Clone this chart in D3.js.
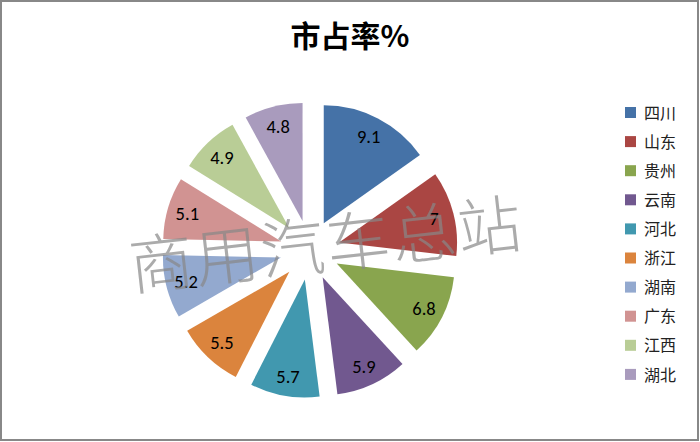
<!DOCTYPE html>
<html>
<head>
<meta charset="utf-8">
<script src="https://cdn.jsdelivr.net/npm/d3@7"></script>
<style>
  html, body { margin: 0; padding: 0; background: #fff; }
</style>
</head>
<body>
<svg id="chart"></svg>
<script>
const categories = ["四川", "山东", "贵州", "云南", "河北", "浙江", "湖南", "广东", "江西", "湖北"];
const shares = [9.1, 7, 6.8, 5.9, 5.7, 5.5, 5.2, 5.1, 4.9, 4.8];
const colors = ["#4572A7", "#AA4643", "#89A54E", "#71588F", "#4198AF",
                "#DB843D", "#93A9CF", "#D19392", "#B9CD96", "#A99BBD"];

const width = 700, height = 442;
const cx = 310, cy = 250;
const radius = 118, explode = 30;

const svg = d3.select("#chart").attr("width", width).attr("height", height)
  .style("display", "block");

// frame
svg.append("rect")
  .attr("x", 1).attr("y", 1)
  .attr("width", width - 3).attr("height", height - 3)
  .attr("fill", "#fff").attr("stroke", "#888").attr("stroke-width", 2);

svg.append("text")
  .attr("x", 350).attr("y", 47)
  .attr("text-anchor", "middle")
  .attr("font-family", "'Noto Sans CJK SC', sans-serif")
  .attr("font-size", 30).attr("font-weight", "bold")
  .attr("fill", "#000")
  .text("市占率%");

const data = categories.map((c, i) => ({ name: c, value: shares[i], color: colors[i] }));

const pie = d3.pie().value(d => d.value).sort(null);
const arc = d3.arc().innerRadius(0).outerRadius(radius);
const labelArc = d3.arc().innerRadius(radius * 0.83).outerRadius(radius * 0.83);

const g = svg.append("g").attr("transform", `translate(${cx},${cy})`);

const slices = g.selectAll(".slice")
  .data(pie(data))
  .enter()
  .append("g")
  .attr("class", "slice")
  .attr("transform", d => {
    const a = (d.startAngle + d.endAngle) / 2;
    return `translate(${Math.sin(a) * explode},${-Math.cos(a) * explode})`;
  });

slices.append("path")
  .attr("d", arc)
  .attr("fill", d => d.data.color);

slices.append("text")
  .attr("transform", d => `translate(${labelArc.centroid(d)})`)
  .attr("text-anchor", "middle")
  .attr("dy", "0.35em")
  .attr("font-family", "Carlito, 'Liberation Sans', sans-serif")
  .attr("font-size", 18.5)
  .attr("fill", "#000")
  .text(d => d.data.value);

// legend
const legend = svg.append("g").attr("transform", "translate(625,113)");
const rows = legend.selectAll(".row")
  .data(data)
  .enter()
  .append("g")
  .attr("class", "row")
  .attr("transform", (d, i) => `translate(0,${i * 29.1})`);

rows.append("rect")
  .attr("x", 0).attr("y", -6)
  .attr("width", 11).attr("height", 11)
  .attr("fill", d => d.color);

rows.append("text")
  .attr("x", 19).attr("y", 0)
  .attr("dy", "0.35em")
  .attr("font-family", "'Noto Sans CJK SC', sans-serif")
  .attr("font-size", 16)
  .attr("fill", "#222")
  .text(d => d.name);

// watermark
svg.append("text")
  .attr("transform", "translate(132,290) rotate(-6.4)")
  .attr("font-family", "'Noto Sans CJK SC', sans-serif")
  .attr("font-weight", 300)
  .attr("font-size", 64)
  .attr("letter-spacing", 2)
  .attr("fill", "#888")
  .attr("fill-opacity", 0.7)
  .text("商用汽车总站");
</script>
</body>
</html>
